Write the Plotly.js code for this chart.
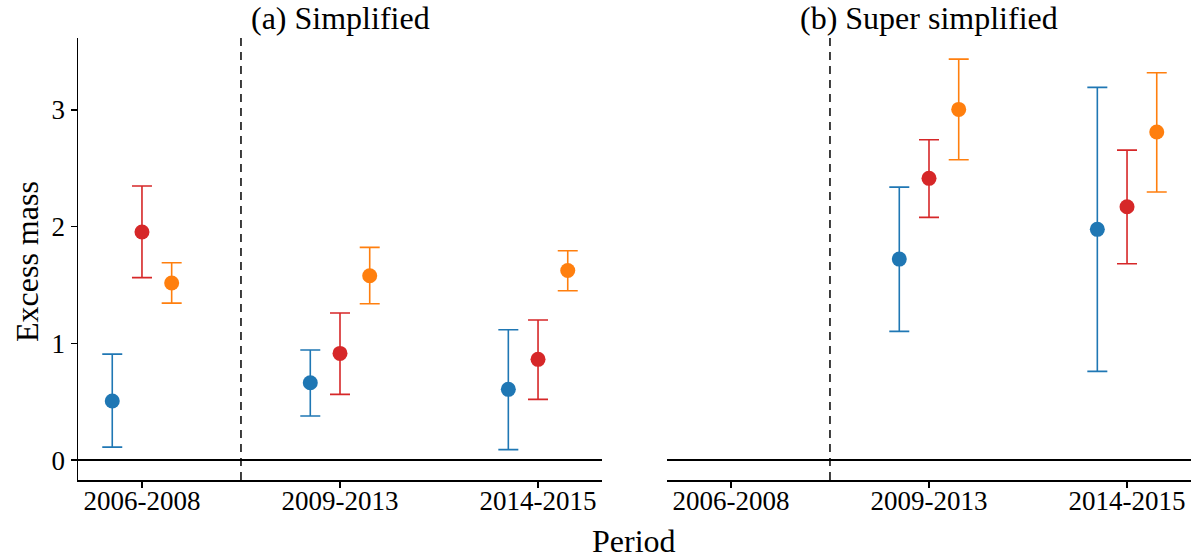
<!DOCTYPE html>
<html>
<head>
<meta charset="utf-8">
<script src="https://cdn.plot.ly/plotly-3.0.1.min.js"></script>
<style>html,body{margin:0;padding:0;background:#fff}</style>
</head>
<body>
<div id="chart" style="width:1203px;height:558px"></div>
<script>
const periods = ["2006-2008", "2009-2013", "2014-2015"];
const panelTitles = ["(a) Simplified", "(b) Super simplified"];
const seriesNames = ["Series 1", "Series 2", "Series 3"];
const seriesColors = ["#1f77b4", "#d62728", "#ff7f0e"];

// Panel (a) Simplified
const aBlueVal = [0.506, 0.663, 0.606];
const aBlueHi  = [0.908, 0.943, 1.117];
const aBlueLo  = [0.111, 0.377, 0.089];
const aRedVal  = [1.954, 0.914, 0.863];
const aRedHi   = [2.348, 1.260, 1.200];
const aRedLo   = [1.563, 0.563, 0.520];
const aOrgVal  = [1.517, 1.579, 1.625];
const aOrgHi   = [1.691, 1.823, 1.794];
const aOrgLo   = [1.345, 1.339, 1.451];

// Panel (b) Super simplified
const bBlueVal = [null, 1.722, 1.977];
const bBlueHi  = [null, 2.339, 3.194];
const bBlueLo  = [null, 1.103, 0.760];
const bRedVal  = [null, 2.414, 2.171];
const bRedHi   = [null, 2.745, 2.656];
const bRedLo   = [null, 2.080, 1.682];
const bOrgVal  = [null, 3.005, 2.811];
const bOrgHi   = [null, 3.436, 3.319];
const bOrgLo   = [null, 2.573, 2.297];

const offsets = [-0.15, 0, 0.15];
const FONT = "Liberation Serif";

function mk(vals, hi, lo, k, xa, ya) {
  return {
    type: "scatter", mode: "markers",
    x: periods.map((p, i) => i + offsets[k]),
    y: vals,
    xaxis: xa, yaxis: ya,
    name: seriesNames[k], showlegend: false,
    marker: {color: seriesColors[k], size: 15},
    error_y: {
      type: "data", symmetric: false,
      array: vals.map((v, i) => v == null ? null : hi[i] - v),
      arrayminus: vals.map((v, i) => v == null ? null : v - lo[i]),
      color: seriesColors[k], thickness: 1.6, width: 10
    },
    hoverinfo: "x+y"
  };
}

const data = [
  mk(aBlueVal, aBlueHi, aBlueLo, 0, "x", "y"),
  mk(aRedVal, aRedHi, aRedLo, 1, "x", "y"),
  mk(aOrgVal, aOrgHi, aOrgLo, 2, "x", "y"),
  mk(bBlueVal, bBlueHi, bBlueLo, 0, "x2", "y2"),
  mk(bRedVal, bRedHi, bRedLo, 1, "x2", "y2"),
  mk(bOrgVal, bOrgHi, bOrgLo, 2, "x2", "y2")
];

const W = 1203, H = 558;
const yDom = [1 - 480 / H, 1 - 38 / H];
const xr = [-0.323, 2.323];
const yr = [-0.171, 3.617];

const xaxisBase = {
  range: xr, showgrid: false, zeroline: false,
  showline: true, linecolor: "#000", linewidth: 1.5,
  ticks: "outside", ticklen: 6, tickwidth: 1.5, tickcolor: "#000",
  tickvals: [0, 1, 2], ticktext: periods,
  ticklabelstandoff: -10,
  tickfont: {family: FONT, size: 27, color: "#000"},
  fixedrange: true
};

const layout = {
  width: W, height: H,
  margin: {l: 0, r: 0, t: 0, b: 0},
  paper_bgcolor: "#fff", plot_bgcolor: "#fff",
  font: {family: FONT, color: "#000"},
  showlegend: false,
  xaxis: Object.assign({}, xaxisBase, {domain: [78 / W, 602 / W], anchor: "y"}),
  xaxis2: Object.assign({}, xaxisBase, {domain: [667 / W, 1191 / W], anchor: "y2"}),
  yaxis: {
    domain: yDom, range: yr, anchor: "x",
    showgrid: false, zeroline: true, zerolinecolor: "#000", zerolinewidth: 1.5,
    showline: true, linecolor: "#000", linewidth: 1.5,
    ticks: "outside", ticklen: 6, tickwidth: 1.5, tickcolor: "#000",
    tickvals: [0, 1, 2, 3],
    tickfont: {family: FONT, size: 27, color: "#000"},
    fixedrange: true
  },
  yaxis2: {
    domain: yDom, range: yr, anchor: "x2",
    showgrid: false, zeroline: true, zerolinecolor: "#000", zerolinewidth: 1.5,
    showline: false, ticks: "", showticklabels: false,
    fixedrange: true
  },
  shapes: [
    {type: "line", xref: "x", yref: "y domain", x0: 0.5, x1: 0.5, y0: 0, y1: 1,
     line: {color: "#000", width: 1.5, dash: "8px,6px"}},
    {type: "line", xref: "x2", yref: "y2 domain", x0: 0.5, x1: 0.5, y0: 0, y1: 1,
     line: {color: "#000", width: 1.5, dash: "8px,6px"}}
  ],
  annotations: [
    {text: panelTitles[0], xref: "x", yref: "paper", x: 1, y: 1 - 18 / H,
     showarrow: false, xanchor: "center", yanchor: "middle",
     font: {family: FONT, size: 32, color: "#000"}},
    {text: panelTitles[1], xref: "x2", yref: "paper", x: 1, y: 1 - 18 / H,
     showarrow: false, xanchor: "center", yanchor: "middle",
     font: {family: FONT, size: 32, color: "#000"}},
    {text: "Period", xref: "paper", yref: "paper", x: 634 / W, y: 1 - 541 / H,
     showarrow: false, xanchor: "center", yanchor: "middle",
     font: {family: FONT, size: 32, color: "#000"}},
    {text: "Excess mass", xref: "paper", yref: "paper", x: 27 / W, y: 1 - 262 / H,
     showarrow: false, textangle: -90, xanchor: "center", yanchor: "middle",
     font: {family: FONT, size: 32, color: "#000"}}
  ]
};

Plotly.newPlot("chart", data, layout, {displayModeBar: false, staticPlot: true});
</script>
</body>
</html>
